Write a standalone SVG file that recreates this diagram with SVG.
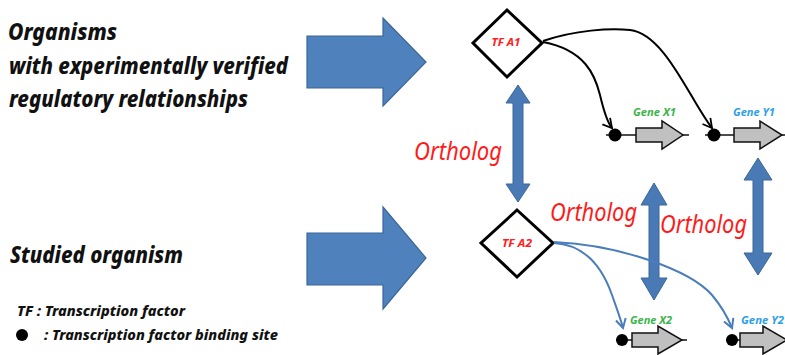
<svg xmlns="http://www.w3.org/2000/svg" width="785" height="355" viewBox="0 0 785 355">
  <defs>
    <style>
      .lbl { font-family: "Noto Sans", "Open Sans", "Liberation Sans", sans-serif; font-style: italic; font-weight: 800; fill: #111; }
      .orth { font-family: "Noto Sans", "Open Sans", "Liberation Sans", sans-serif; font-style: italic; fill: #ff1a1a; font-size: 25px; }
      .tf { font-family: "Noto Sans", "Open Sans", "Liberation Sans", sans-serif; font-style: italic; font-weight: bold; fill: #ff2020; font-size: 11px; text-anchor: middle; }
      .gene { font-family: "Noto Sans", "Open Sans", "Liberation Sans", sans-serif; font-style: italic; font-weight: bold; font-size: 11px; }
      .big { fill: #4f81bd; stroke: #3b6698; stroke-width: 1.2; }
      .dbl { fill: #4a7ab5; stroke: #3b6698; stroke-width: 1; }
      .diamond { fill: #fff; stroke: #000; stroke-width: 3; }
      .gbody { fill: #c0c0c0; stroke: #111; stroke-width: 1.5; }
      .site { fill: #000; }
      .dna { stroke: #111; stroke-width: 1.5; fill: none; }
      .reg { fill: none; stroke-width: 2; }
    </style>
    <marker id="headBlack" markerWidth="12" markerHeight="12" refX="10" refY="6" orient="auto" markerUnits="userSpaceOnUse">
      <path d="M1,1 L10,6 L1,11" fill="none" stroke="#000" stroke-width="1.8"/>
    </marker>
    <marker id="headBlue" markerWidth="12" markerHeight="12" refX="10" refY="6" orient="auto" markerUnits="userSpaceOnUse">
      <path d="M1,1 L10,6 L1,11" fill="none" stroke="#4a7ebb" stroke-width="2"/>
    </marker>
  </defs>

  <rect width="785" height="355" fill="#fff"/>

  <!-- left captions -->
  <g id="captions">
    <text class="lbl" x="8" y="40" font-size="23" textLength="109" lengthAdjust="spacingAndGlyphs">Organisms</text>
    <text class="lbl" x="9" y="74" font-size="23" textLength="279" lengthAdjust="spacingAndGlyphs">with experimentally verified</text>
    <text class="lbl" x="9" y="107" font-size="23" textLength="239" lengthAdjust="spacingAndGlyphs">regulatory relationships</text>
    <text class="lbl" x="10" y="263" font-size="23" textLength="173" lengthAdjust="spacingAndGlyphs">Studied organism</text>
  </g>

  <!-- legend -->
  <g id="legend">
    <text class="lbl" x="17" y="316" font-size="14" textLength="168" lengthAdjust="spacingAndGlyphs">TF : Transcription factor</text>
    <circle class="site" cx="22" cy="335" r="6"/>
    <text class="lbl" x="44" y="340" font-size="14" textLength="234" lengthAdjust="spacingAndGlyphs">: Transcription factor binding site</text>
  </g>

  <!-- block arrows pointing to each organism -->
  <g id="arrow-top">
    <path class="big" d="M307,36 L383,36 L383,18 L426,62 L383,106 L383,88 L307,88 Z"/>
  </g>
  <g id="arrow-bottom">
    <path class="big" d="M307,233 L383,233 L383,207 L426,258 L383,309 L383,285 L307,285 Z"/>
  </g>

  <!-- ortholog double arrows -->
  <g id="ortholog-tf">
    <path class="dbl" d="M518,85 L530,103 L523,103 L523,184 L530,184 L518,202 L506,184 L513,184 L513,103 L506,103 Z"/>
    <text class="orth" x="414" y="160" textLength="88" lengthAdjust="spacingAndGlyphs">Ortholog</text>
  </g>
  <g id="ortholog-x">
    <path class="dbl" d="M654,183 L667,205 L659,205 L659,278 L667,278 L654,300 L641,278 L649,278 L649,205 L641,205 Z"/>
    <text class="orth" x="550" y="221" textLength="87" lengthAdjust="spacingAndGlyphs">Ortholog</text>
  </g>
  <g id="ortholog-y">
    <path class="dbl" d="M758,158 L772,180 L763,180 L763,253 L772,253 L758,275 L744,253 L753,253 L753,180 L744,180 Z"/>
    <text class="orth" x="660" y="233" textLength="87" lengthAdjust="spacingAndGlyphs">Ortholog</text>
  </g>

  <!-- transcription factors -->
  <g id="tf-a1">
    <path class="diamond" d="M507,10 L542,43 L507,77 L473,43 Z"/>
    <text class="tf" x="506" y="46" textLength="29" lengthAdjust="spacingAndGlyphs">TF A1</text>
  </g>
  <g id="tf-a2">
    <path class="diamond" d="M517,210 L553,243 L517,277 L481,243 Z"/>
    <text class="tf" x="517" y="247" textLength="30" lengthAdjust="spacingAndGlyphs">TF A2</text>
  </g>

  <!-- genes, upper organism -->
  <g id="gene-x1">
    <line class="dna" x1="606" y1="135" x2="689" y2="135"/>
    <circle class="site" cx="615" cy="135" r="6.5"/>
    <path class="gbody" d="M636,128 L662,128 L662,121 L683,135 L662,149 L662,142 L636,142 Z"/>
    <text class="gene" x="633" y="116" fill="#3cb44b" textLength="43" lengthAdjust="spacingAndGlyphs">Gene X1</text>
  </g>
  <g id="gene-y1">
    <line class="dna" x1="705" y1="135" x2="785" y2="135"/>
    <circle class="site" cx="714" cy="135" r="6.5"/>
    <path class="gbody" d="M734,128 L760,128 L760,121 L782,135 L760,149 L760,142 L734,142 Z"/>
    <text class="gene" x="733" y="116" fill="#2ea0e6" textLength="42" lengthAdjust="spacingAndGlyphs">Gene Y1</text>
  </g>

  <!-- genes, studied organism -->
  <g id="gene-x2">
    <line class="dna" x1="616" y1="340" x2="687" y2="340"/>
    <circle class="site" cx="622" cy="340" r="6"/>
    <path class="gbody" d="M632,333 L658,333 L658,326 L682,340 L658,354 L658,347 L632,347 Z"/>
    <text class="gene" x="630" y="324" fill="#3cb44b" textLength="42" lengthAdjust="spacingAndGlyphs">Gene X2</text>
  </g>
  <g id="gene-y2">
    <line class="dna" x1="726" y1="340" x2="785" y2="340"/>
    <circle class="site" cx="732" cy="340" r="6"/>
    <path class="gbody" d="M740,333 L763,333 L763,326 L787,340 L763,354 L763,347 L740,347 Z"/>
    <text class="gene" x="741" y="324" fill="#2ea0e6" textLength="43" lengthAdjust="spacingAndGlyphs">Gene Y2</text>
  </g>

  <!-- regulatory links -->
  <g id="connectors">
    <path class="reg" stroke="#000" marker-end="url(#headBlack)" d="M543,42 C585,50 595,75 600,95 C604,112 607,122 612,128"/>
    <path class="reg" stroke="#000" marker-end="url(#headBlack)" d="M543,41 C575,30 610,28 630,30 C665,34 690,100 712,128"/>
    <path class="reg" stroke="#4a7ebb" marker-end="url(#headBlue)" d="M554,243 C590,245 605,275 612,295 C618,312 621,320 623,328"/>
    <path class="reg" stroke="#4a7ebb" marker-end="url(#headBlue)" d="M554,242 C620,245 690,270 712,295 C722,307 728,318 732,328"/>
  </g>
</svg>
